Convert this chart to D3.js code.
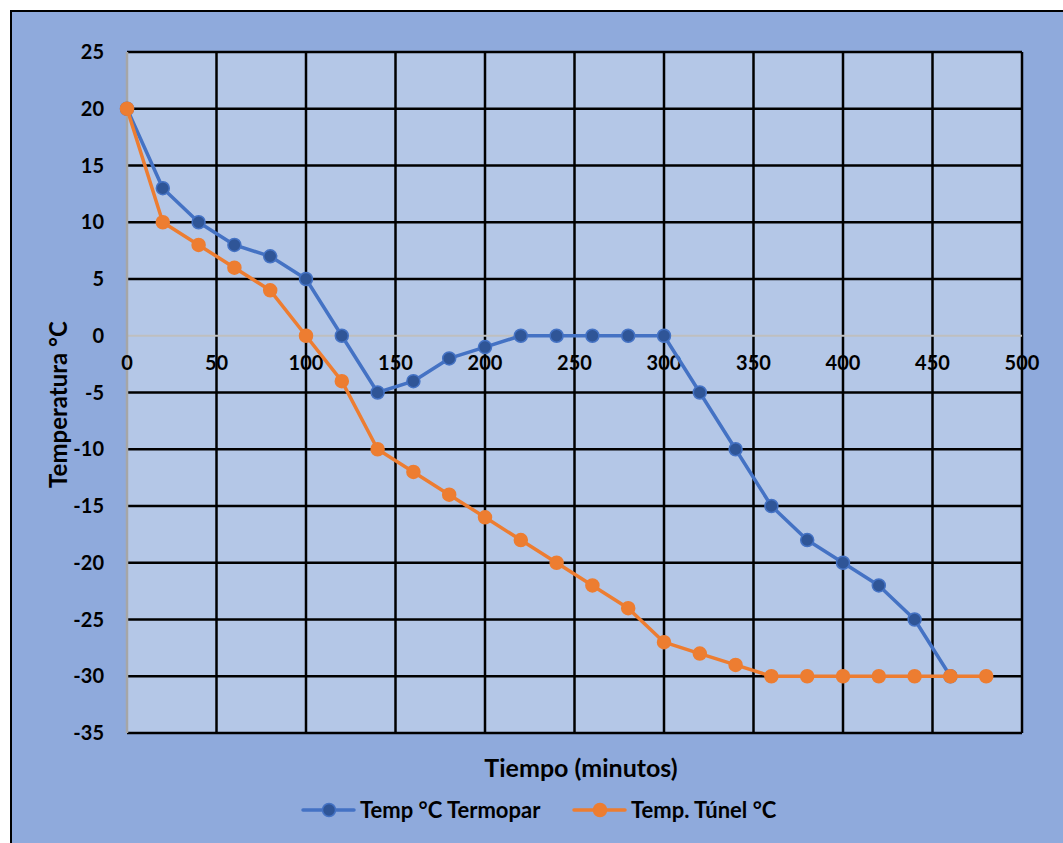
<!DOCTYPE html>
<html>
<head>
<meta charset="utf-8">
<script src="https://cdn.jsdelivr.net/npm/d3@7"></script>
<style>
  html, body { margin: 0; padding: 0; background: #ffffff; }
  svg { display: block; font-family: Lato, "Open Sans", sans-serif; font-weight: bold; }
</style>
</head>
<body>
<svg id="chart" width="1063" height="843"></svg>
<script>
// Time axis (minutes) and temperature readings
const tiempoTermopar = [0, 20, 40, 60, 80, 100, 120, 140, 160, 180, 200, 220, 240, 260, 280, 300, 320, 340, 360, 380, 400, 420, 440, 460];
const tempTermopar   = [20, 13, 10, 8, 7, 5, 0, -5, -4, -2, -1, 0, 0, 0, 0, 0, -5, -10, -15, -18, -20, -22, -25, -30];
const tiempoTunel    = [0, 20, 40, 60, 80, 100, 120, 140, 160, 180, 200, 220, 240, 260, 280, 300, 320, 340, 360, 380, 400, 420, 440, 460, 480];
const tempTunel      = [20, 10, 8, 6, 4, 0, -4, -10, -12, -14, -16, -18, -20, -22, -24, -27, -28, -29, -30, -30, -30, -30, -30, -30, -30];
const xTicks = [0, 50, 100, 150, 200, 250, 300, 350, 400, 450, 500];
const yTicks = [25, 20, 15, 10, 5, 0, -5, -10, -15, -20, -25, -30, -35];
const seriesNames = ["Temp °C Termopar", "Temp. Túnel °C"];

const svg = d3.select("#chart");
const W = 1063, H = 843;

// outer chart area
svg.append("rect").attr("x", 11).attr("y", 11).attr("width", W).attr("height", H)
  .attr("fill", "#8FAADC").attr("stroke", "#000").attr("stroke-width", 2);

const x = d3.scaleLinear().domain([0, 500]).range([127, 1022]);
const y = d3.scaleLinear().domain([-35, 25]).range([733, 52]);

// plot area
svg.append("rect").attr("x", x(0)).attr("y", y(25))
  .attr("width", x(500) - x(0)).attr("height", y(-35) - y(25))
  .attr("fill", "#B4C7E7");

// gridlines
const grid = svg.append("g");
grid.selectAll("line.h").data(yTicks.filter(v => v !== 0)).join("line")
  .attr("x1", x(0)).attr("x2", x(500))
  .attr("y1", d => y(d)).attr("y2", d => y(d))
  .attr("stroke", "#000").attr("stroke-width", 2.5);
grid.selectAll("line.v").data(xTicks.filter(v => v !== 0)).join("line")
  .attr("x1", d => x(d)).attr("x2", d => x(d))
  .attr("y1", y(25)).attr("y2", y(-35))
  .attr("stroke", "#000").attr("stroke-width", 2.5);

// axis lines (gray)
svg.append("line").attr("x1", x(0)).attr("x2", x(500)).attr("y1", y(0)).attr("y2", y(0))
  .attr("stroke", "#BFBFBF").attr("stroke-width", 2);
svg.append("line").attr("x1", x(0)).attr("x2", x(0)).attr("y1", y(25)).attr("y2", y(-35))
  .attr("stroke", "#A6A6A6").attr("stroke-width", 2.5);

// y tick labels
svg.append("g").selectAll("text").data(yTicks).join("text")
  .attr("x", 104).attr("y", d => y(d)).attr("dy", "0.36em")
  .attr("text-anchor", "end").attr("font-size", 20).attr("fill", "#000")
  .text(d => d);

// x tick labels (sit under the zero line)
svg.append("g").selectAll("text").data(xTicks).join("text")
  .attr("x", d => x(d)).attr("y", y(0) + 36).attr("dy", "-0.1em")
  .attr("text-anchor", "middle").attr("font-size", 20).attr("fill", "#000")
  .text(d => d);

// axis titles
svg.append("text").attr("transform", `translate(67,${(y(25) + y(-35)) / 2 + 12}) rotate(-90)`)
  .attr("text-anchor", "middle").attr("font-size", 24).attr("fill", "#000")
  .text("Temperatura °C");
svg.append("text").attr("x", 581).attr("y", 777)
  .attr("text-anchor", "middle").attr("font-size", 25).attr("fill", "#000")
  .text("Tiempo (minutos)");

// series
const line = d3.line().x(d => x(d[0])).y(d => y(d[1]));
const series = [
  { data: d3.zip(tiempoTermopar, tempTermopar), stroke: "#4472C4", fill: "#2F5597" },
  { data: d3.zip(tiempoTunel, tempTunel), stroke: "#ED7D31", fill: "#ED7D31" }
];
series.forEach(s => {
  svg.append("path").datum(s.data).attr("d", line)
    .attr("fill", "none").attr("stroke", s.stroke).attr("stroke-width", 3.5)
    .attr("stroke-linejoin", "round");
  svg.append("g").selectAll("circle").data(s.data).join("circle")
    .attr("cx", d => x(d[0])).attr("cy", d => y(d[1])).attr("r", 6.5)
    .attr("fill", s.fill).attr("stroke", s.stroke).attr("stroke-width", 1.5);
});

// legend
const legendItems = [
  { name: seriesNames[0], x: 302, stroke: "#4472C4", fill: "#2F5597" },
  { name: seriesNames[1], x: 573, stroke: "#ED7D31", fill: "#ED7D31" }
];
const lg = svg.append("g");
legendItems.forEach(it => {
  lg.append("line").attr("x1", it.x + 1).attr("x2", it.x + 52).attr("y1", 810).attr("y2", 810)
    .attr("stroke", it.stroke).attr("stroke-width", 3.5).attr("stroke-linecap", "round");
  lg.append("circle").attr("cx", it.x + 27).attr("cy", 810).attr("r", 6.5)
    .attr("fill", it.fill).attr("stroke", it.stroke).attr("stroke-width", 1.5);
  lg.append("text").attr("x", it.x + 58).attr("y", 810).attr("dy", "0.36em")
    .attr("font-size", 22).attr("fill", "#000").text(it.name);
});
</script>
</body>
</html>
